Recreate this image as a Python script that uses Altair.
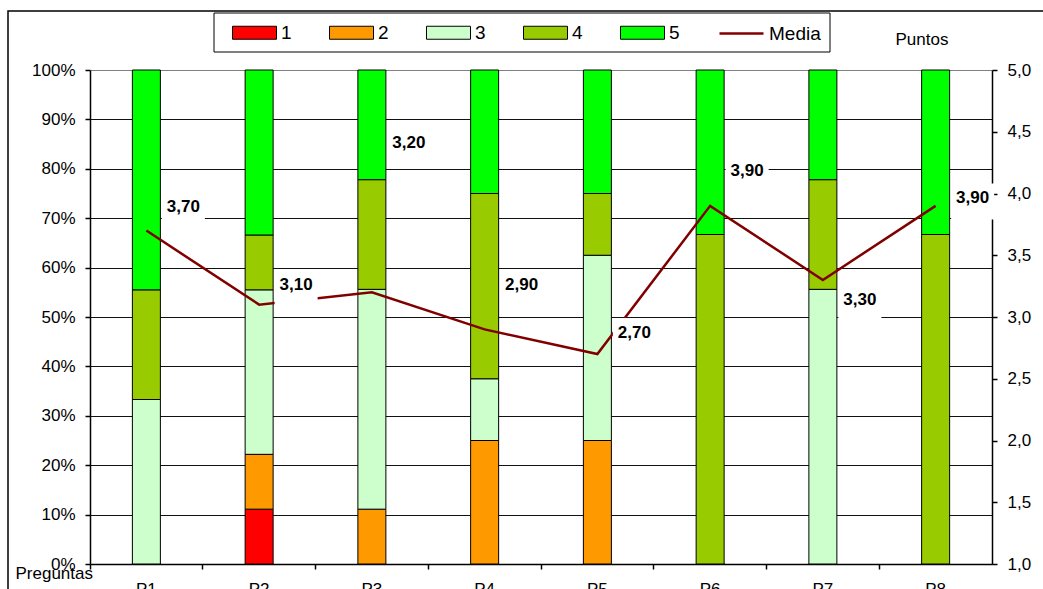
import altair as alt
import pandas as pd

preguntas = ["P1", "P2", "P3", "P4", "P5", "P6", "P7", "P8"]
niveles = ["1", "2", "3", "4", "5"]
pct_1 = [0.0, 11.1, 0.0, 0.0, 0.0, 0.0, 0.0, 0.0]
pct_2 = [0.0, 11.1, 11.1, 25.0, 25.0, 0.0, 0.0, 0.0]
pct_3 = [33.3, 33.3, 44.5, 12.5, 37.5, 0.0, 55.6, 0.0]
pct_4 = [22.2, 11.1, 22.2, 37.5, 12.5, 66.7, 22.2, 66.7]
pct_5 = [44.5, 33.4, 22.2, 25.0, 25.0, 33.3, 22.2, 33.3]
media = [3.70, 3.10, 3.20, 2.90, 2.70, 3.90, 3.30, 3.90]
# where each value label sits on the "Puntos" scale
label_pos = [3.89, 3.26, 4.41, 3.26, 2.87, 4.18, 3.14, 3.96]

colores = ["#FF0000", "#FF9900", "#CCFFCC", "#99CC00", "#00FF00"]
color_media = "#800000"
FONT = "Liberation Sans"

series = [pct_1, pct_2, pct_3, pct_4, pct_5]
rows = []
for nivel, vals in zip(niveles, series):
    for p, v in zip(preguntas, vals):
        rows.append({"pregunta": p, "nivel": nivel, "pct": v})
df_bars = pd.DataFrame(rows)
df_media = pd.DataFrame({"pregunta": preguntas, "media": media,
                         "label_pos": label_pos, "serie": ["Media"] * len(preguntas)})

x_enc = alt.X("pregunta:N", sort=preguntas,
              scale=alt.Scale(paddingInner=0, paddingOuter=0),
              axis=alt.Axis(title="Preguntas", titleX=-75, titleY=14, titleAlign="left",
                            titleBaseline="alphabetic", titleFontSize=17,
                            titleFontWeight="normal", titleFont=FONT, titleColor="black",
                            labelAngle=0, bandPosition=0, labelPadding=12,
                            tickSize=5))

bars = alt.Chart(df_bars).mark_bar(width=28, stroke="black", strokeWidth=1).encode(
    x=x_enc,
    y=alt.Y("pct:Q", stack="normalize",
            scale=alt.Scale(domain=[0, 1], nice=False),
            axis=alt.Axis(title=None, format=".0%",
                          values=[i / 10 for i in range(11)],
                          grid=True,
                          gridColor={"condition": {"test": "datum.value >= 1", "value": "#808080"},
                                     "value": "#111111"},
                          gridWidth=1, labelPadding=10, tickSize=5)),
    color=alt.Color("nivel:N", scale=alt.Scale(domain=niveles, range=colores),
                    legend=alt.Legend(orient="none", legendX=142, legendY=-60,
                                      direction="horizontal", title=None, padding=0,
                                      symbolType="M-1,-0.295H1V0.295H-1Z", symbolSize=1936,
                                      symbolStrokeColor="black", symbolStrokeWidth=1,
                                      labelFont=FONT, labelFontSize=19, labelColor="black",
                                      labelOffset=4, columnPadding=35)),
    order=alt.Order("nivel:N", sort="ascending"),
)

pts_axis = alt.Axis(orient="right", title="Puntos", titleAngle=0, titleX=-97,
                    titleY=-26, titleAlign="left", titleBaseline="alphabetic",
                    titleFontSize=17, titleFontWeight="normal", titleFont=FONT,
                    titleColor="black",
                    values=[1 + 0.5 * i for i in range(9)],
                    labelExpr="replace(format(datum.value, '.1f'), '.', ',')",
                    grid=False, labelPadding=10, tickSize=5)
pts_scale = alt.Scale(domain=[1, 5], nice=False)

line = alt.Chart(df_media).mark_line(strokeWidth=2.5).encode(
    x=alt.X("pregunta:N", sort=preguntas),
    y=alt.Y("media:Q", scale=pts_scale, axis=pts_axis),
    stroke=alt.Stroke("serie:N", scale=alt.Scale(domain=["Media"], range=[color_media]),
                      legend=alt.Legend(orient="none", legendX=628, legendY=-60,
                                        direction="horizontal", title=None, padding=0,
                                        symbolType="stroke", symbolSize=1936,
                                        symbolStrokeWidth=2.5,
                                        labelFont=FONT, labelFontSize=19, labelColor="black",
                                        labelOffset=4)),
)

y_lab = alt.Y("label_pos:Q", scale=pts_scale, axis=pts_axis)

boxes = alt.Chart(df_media).mark_point(
    shape="M-1,-0.837H1V0.837H-1Z", size=43 * 43, filled=True, fill="white",
    opacity=1, strokeWidth=0, xOffset=37, yOffset=3,
).encode(x=alt.X("pregunta:N", sort=preguntas), y=y_lab)

texts = alt.Chart(df_media).transform_calculate(
    lbl="replace(format(datum.media, '.2f'), '.', ',')"
).mark_text(font=FONT, fontSize=17, fontWeight="bold", dx=37, align="center",
            baseline="middle", color="black").encode(
    x=alt.X("pregunta:N", sort=preguntas), y=y_lab, text="lbl:N")

frame_df = pd.DataFrame({"k": [0]})
outer_frame = alt.Chart(frame_df).mark_rect(filled=False, stroke="black", strokeWidth=1.5).encode(
    x=alt.value(-82), x2=alt.value(1100), y=alt.value(-59), y2=alt.value(700))
legend_box = alt.Chart(frame_df).mark_rect(filled=False, stroke="black", strokeWidth=1).encode(
    x=alt.value(124), x2=alt.value(740), y=alt.value(-57), y2=alt.value(-18))

puntos = alt.layer(line, boxes, texts)
chart = alt.layer(outer_frame, legend_box, bars, puntos).resolve_scale(
    y="independent"
).properties(
    width=902, height=494,
    background="white",
    autosize=alt.AutoSizeParams(type="none"),
    padding={"left": 90, "top": 70, "right": 51, "bottom": 25},
).configure_view(stroke=None).configure_axis(
    labelFont=FONT, labelFontSize=17, labelColor="black",
    domainColor="black", tickColor="black", domainWidth=1.5, tickWidth=1.5,
)

chart.save("out.html", embed_options={"renderer": "svg", "actions": False})
